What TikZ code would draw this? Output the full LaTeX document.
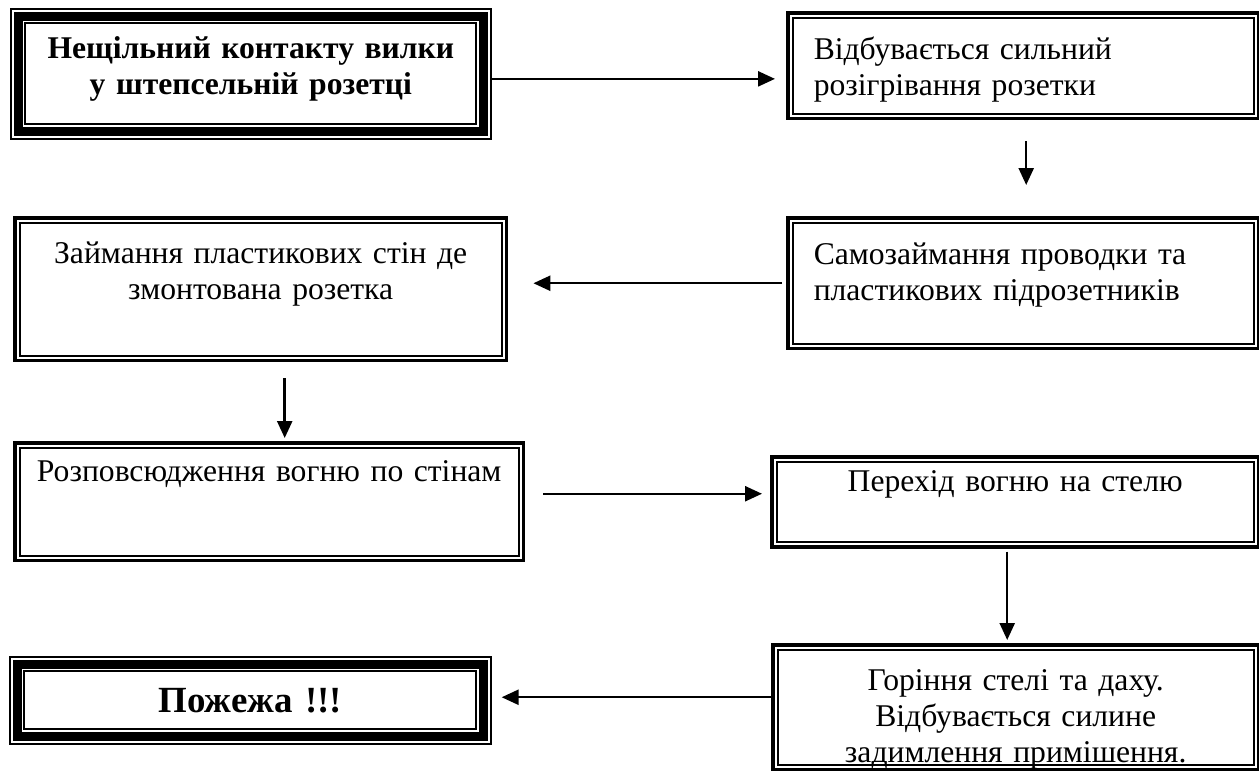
\documentclass[tikz,border=0pt]{standalone}
\usepackage{fontspec}
\setmainfont{Liberation Serif}
\usetikzlibrary{arrows.meta,calc}

\begin{document}
\begin{tikzpicture}[x=0.02cm,y=-0.02cm,
    arr/.style={-{Triangle[length=0.34cm,width=0.3cm]},line width=1.4pt},
    box/.style={draw,anchor=north west,inner ysep=0pt,inner xsep=0.2cm,
      font=\fontsize{18}{20.5}\selectfont},
    dbox/.style={box,line width=2pt,
      path picture={\draw[line width=1pt]
        ([shift={(0.1cm,0.1cm)}]path picture bounding box.south west) rectangle
        ([shift={(-0.1cm,-0.1cm)}]path picture bounding box.north east);}},
    tbox/.style={box,line width=1pt,
      path picture={\draw[line width=5pt]
        ([shift={(0.15cm,0.15cm)}]path picture bounding box.south west) rectangle
        ([shift={(-0.15cm,-0.15cm)}]path picture bounding box.north east);
        \draw[line width=1.2pt]
        ([shift={(0.29cm,0.29cm)}]path picture bounding box.south west) rectangle
        ([shift={(-0.29cm,-0.29cm)}]path picture bounding box.north east);}}]
    \useasboundingbox (0,0) rectangle (1259,771);
    \node[tbox,text width=9.2cm,align=center,text height=1cm,text depth=1.6cm,
      font=\fontsize{18}{20.5}\selectfont\bfseries] (b1) at (10,8)
      {Нещільний контакту вилки\\у штепсельній розетці};
    \node[dbox,inner xsep=0.52cm,text width=8.38cm,align=left,text height=0.94cm,text depth=1.18cm] (b2) at (786,11)
      {Відбувається сильний\\розігрівання розетки};
    \node[dbox,text width=9.44cm,align=center,text height=0.92cm,text depth=1.94cm] (b3) at (13,216)
      {Займання пластикових стін де\\змонтована розетка};
    \node[dbox,inner xsep=0.52cm,text width=8.38cm,align=left,text height=0.94cm,text depth=1.68cm] (b4) at (786,216)
      {Самозаймання проводки та\\пластикових підрозетників};
    \node[dbox,text width=9.78cm,align=center,text height=0.78cm,text depth=1.58cm] (b5) at (13,441)
      {Розповсюдження вогню по стінам};
    \node[dbox,text width=9.34cm,align=center,text height=0.7cm,text depth=1.1cm] (b6) at (770,455)
      {Перехід вогню на стелю};
    \node[tbox,text width=9.22cm,align=center,text height=1.12cm,text depth=0.62cm,
      font=\fontsize{21}{24}\selectfont\bfseries] (b7) at (9,656)
      {Пожежа !!!};
    \node[dbox,text width=9.32cm,align=center,text height=0.92cm,text depth=1.58cm] (b8) at (771,643)
      {Горіння стелі та даху.\\Відбувається силине\\задимлення примішення.};
    % arrows
    \draw[arr,shorten >=0.22cm] ($(b1.east)+(0,5)$) -- ($(b1.east -| b2.west)+(0,5)$);
    \draw[arr,shorten <=0.42cm,shorten >=0.62cm] ($(b2.south)+(3,0)$) -- ($(b2.south |- b4.north)+(3,0)$);
    \draw[arr,shorten <=0.08cm,shorten >=0.5cm] (b4.west) -- (b4.west -| b3.east);
    \draw[arr,shorten <=0.32cm,shorten >=0.06cm] ($(b3.south)+(24,0)$) -- ($(b3.south |- b5.north)+(24,0)$);
    \draw[arr,shorten <=0.36cm,shorten >=0.16cm] ($(b5.east)+(0,-8)$) -- ($(b5.east -| b6.west)+(0,-8)$);
    \draw[arr,shorten <=0.06cm,shorten >=0.06cm] ($(b6.south)+(-8,0)$) -- ($(b6.south |- b8.north)+(-8,0)$);
    \draw[arr,shorten >=0.2cm] ($(b8.west)+(0,-10)$) -- ($(b8.west -| b7.east)+(0,-10)$);
\end{tikzpicture}
\end{document}
